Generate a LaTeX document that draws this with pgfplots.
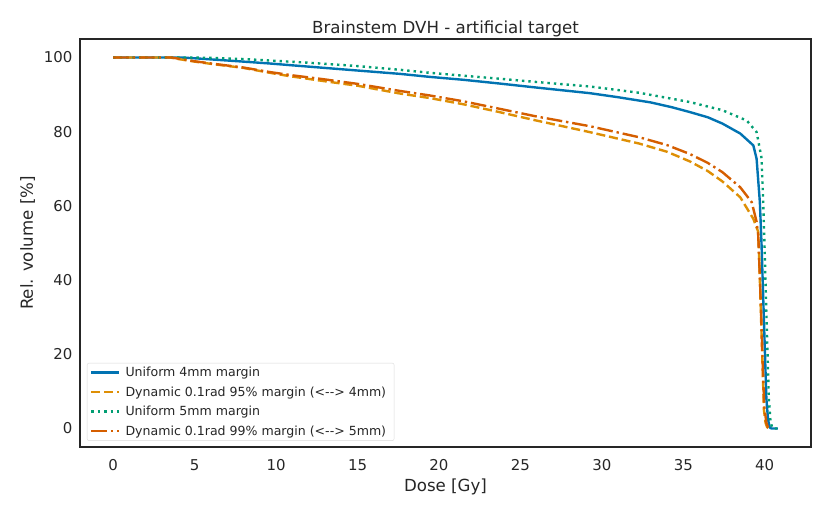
\documentclass[border=0pt]{standalone}
\usepackage{pgfplots}
\pgfplotsset{compat=1.18}
\usepackage{fontspec}
\setmainfont{DejaVu Sans}
\definecolor{cbblue}{HTML}{0173B2}
\definecolor{cborange}{HTML}{DE8F05}
\definecolor{cbgreen}{HTML}{029E73}
\definecolor{cbred}{HTML}{D55E00}
\definecolor{frame}{HTML}{262626}
\begin{document}
\begin{tikzpicture}
\begin{axis}[
  at={(0,0)}, anchor=south west,
  scale only axis, width=731bp, height=408bp,
  xmin=-2.04, xmax=42.84, ymin=-5, ymax=105,
  xtick={0,5,...,40}, ytick={0,20,...,100},
  major tick length=0pt,
  axis line style={frame, line width=1.6bp},
  /pgf/number format/assume math mode=true,
  tick label style={font=\fontsize{15}{18}\selectfont, text=frame},
  xticklabel style={yshift=-9bp},
  yticklabel style={xshift=-4bp},
  label style={font=\fontsize{16.7}{20}\selectfont, text=frame},
  xlabel={Dose [Gy]}, ylabel={Rel. volume [\%]},
  xlabel style={yshift=-1bp},
  ylabel style={yshift=2bp},
  title={Brainstem DVH - artificial target},
  title style={font=\fontsize{16.7}{20}\selectfont, text=frame, yshift=-7bp},
  legend cell align=left,
  legend style={font=\fontsize{12.6}{15}\selectfont, draw=black!15, rounded corners=2bp, at={(0.0095,0.015)}, anchor=south west, inner xsep=3bp, inner ysep=3.5bp, row sep=7.5bp, text=frame, nodes={inner xsep=5bp, inner ysep=0.5bp}},
  legend image code/.code={\draw[#1] (0bp,0bp) -- (28bp,0bp);},
  every axis plot/.append style={line width=2.4bp, line cap=butt, line join=round},
]
\addplot[cbblue] coordinates {
(0,100)(4.2,100)(5,99.8)(6,99.5)(8,98.9)(9.6,98.4)(11,97.9)(13,97.2)(15,96.5)(17.6,95.6)(19.4,94.8)(21.5,94)(23.7,93)(26,91.9)(29.25,90.4)(31,89.3)(33,87.9)(34.3,86.6)(35.4,85.3)(36.5,83.9)(37.4,82.2)(38.5,79.5)(39.3,76.3)(39.5,72.7)(39.7,61)(39.8,50)(39.9,36)(40.0,22)(40.1,8)(40.2,2.5)(40.3,0.3)(40.4,0)(40.8,0)};
\addlegendentry{Uniform 4mm margin}
\addplot[cborange, dash pattern=on 9bp off 3.9bp] coordinates {
(0,100)(3.5,100)(4,99.6)(5,98.9)(6,98.3)(8,97.2)(9.6,95.9)(10.8,95)(13,93.6)(15,92.4)(17.6,90.3)(19.4,89.1)(21.5,87.4)(23.7,85.3)(26,83)(29.25,79.9)(32.3,76.8)(34,74.6)(35.4,72)(36.5,69.4)(37.4,66.6)(38.5,62.3)(39.3,56.5)(39.6,53)(39.7,40)(39.8,26)(39.9,12)(39.95,5)(40.05,1.5)(40.15,0.3)(40.3,0)};
\addlegendentry{Dynamic 0.1rad 95\% margin (<{-}{-}> 4mm)}
\addplot[cbgreen, dash pattern=on 2.4bp off 4bp] coordinates {
(0,100)(5,100)(6,99.9)(8,99.6)(9.6,99.2)(12,98.6)(15,97.7)(17.6,96.7)(19.4,95.9)(21.5,95.1)(23.7,94.3)(26,93.4)(29.25,92.2)(32.3,90.5)(35.4,88)(37.4,85.8)(38.9,83)(39.5,79.9)(39.8,73)(39.9,62)(40.0,47)(40.1,31)(40.2,16)(40.25,8)(40.35,2)(40.45,0.3)(40.5,0)(40.8,0)};
\addlegendentry{Uniform 5mm margin}
\addplot[cbred, dash pattern=on 15.6bp off 3.9bp on 2.4bp off 3.9bp] coordinates {
(0,100)(3.6,100)(4,99.7)(5,99)(6,98.4)(8,97.3)(9.6,96.1)(11,95.2)(13,94.1)(15,92.9)(17.6,91)(19.4,89.8)(21.5,88.2)(23.7,86.2)(26,84.1)(29.25,81.5)(32.3,78.5)(34,76.4)(35.4,74)(36.5,71.6)(37.4,69.1)(38.5,65)(39.2,61)(39.5,55.7)(39.6,52)(39.7,41)(39.8,28)(39.9,14)(39.97,6)(40.1,1.5)(40.2,0.3)(40.3,0)};
\addlegendentry{Dynamic 0.1rad 99\% margin (<{-}{-}> 5mm)}
\end{axis}
\pgfresetboundingbox
\useasboundingbox (-80bp,-66bp) rectangle (750bp,447bp);
\end{tikzpicture}
\end{document}
